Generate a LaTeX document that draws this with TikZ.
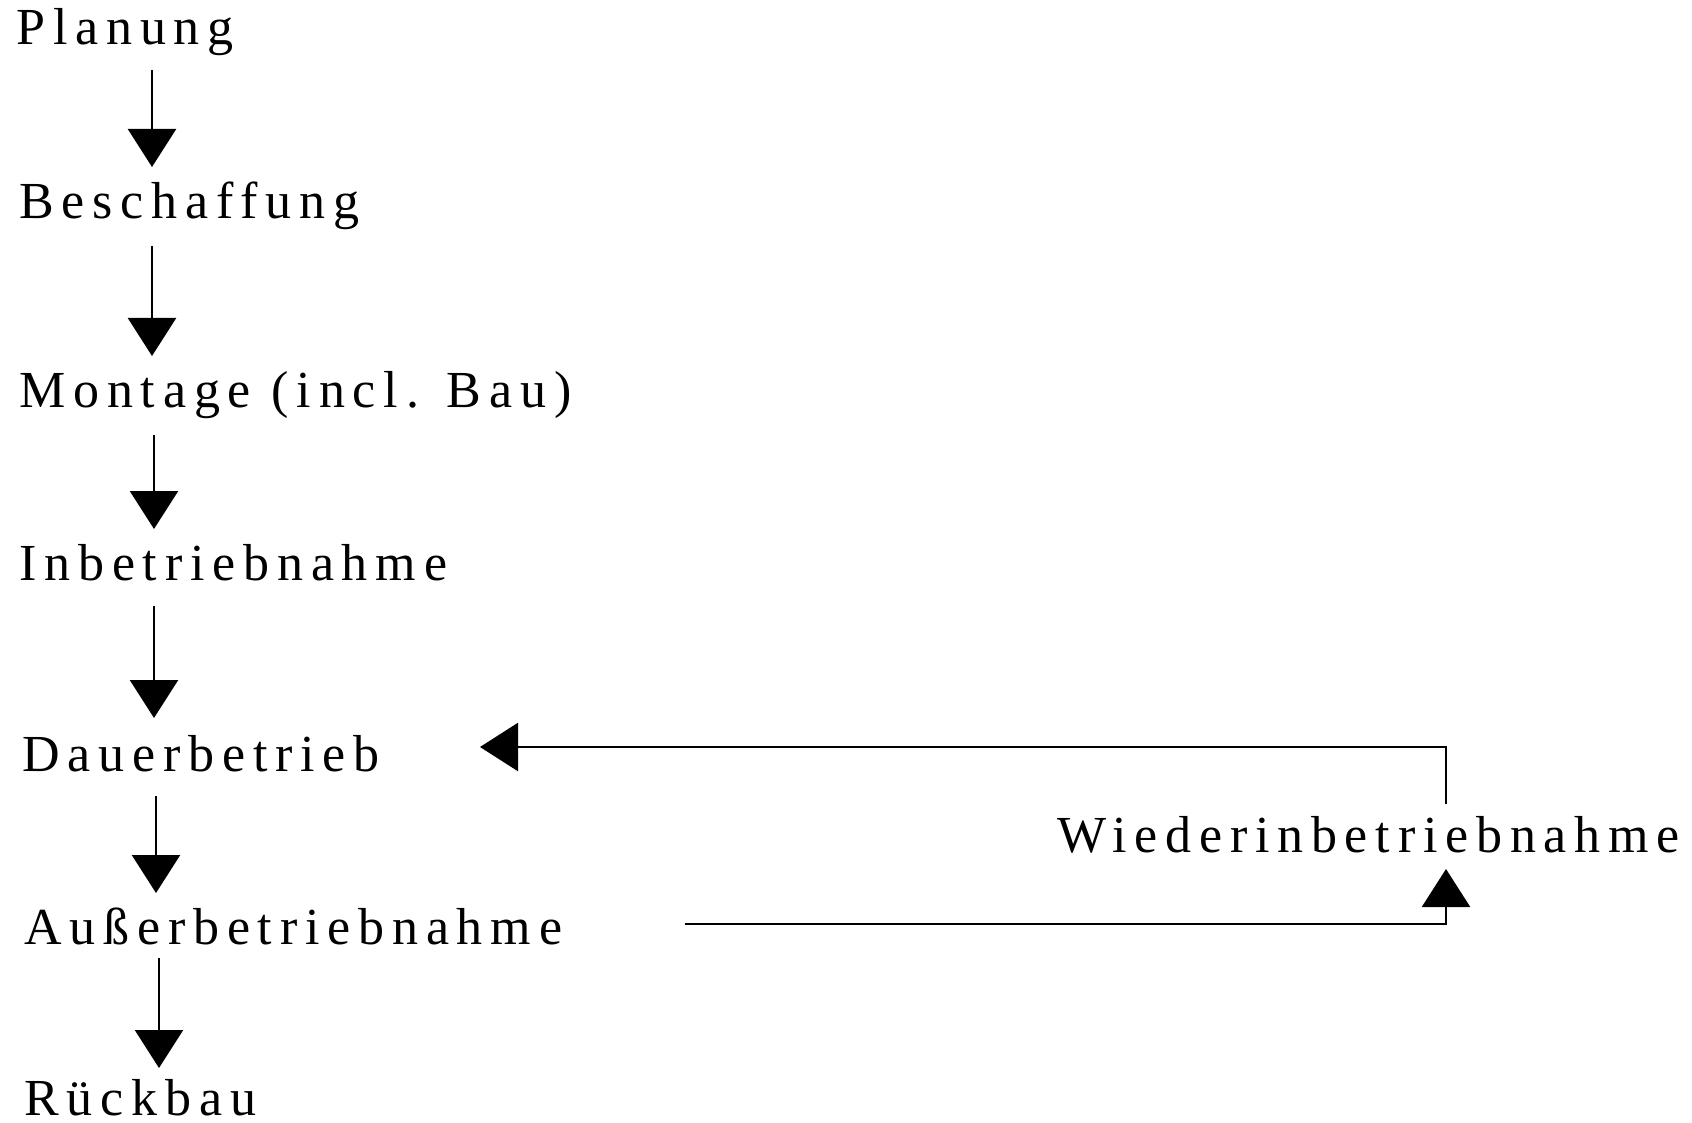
\documentclass[tikz,border=0pt]{standalone}
\usepackage{fontspec}
\setmainfont{Liberation Serif}[LetterSpace=15]
\usetikzlibrary{arrows.meta, calc}

\tikzset{
    phase/.style={anchor=base west, inner sep=0pt, font=\fontsize{26pt}{30pt}\selectfont},
    pfeil/.style={line width=1.2pt, -{Triangle[length=19pt, width=24pt]}}
}

\begin{document}
\begin{tikzpicture}[x=0.5pt, y=-0.5pt]

            \useasboundingbox (0,0) rectangle (1692,1123);

            % Phases
            \node[phase] (plan)   at (16,45)   {Planung};
            \node[phase] (besch)  at (19,219)  {Beschaffung};
            \node[phase] (mont)   at (19,408)  {Montage (incl. Bau)};
            \node[phase] (inbe)   at (19,580)  {Inbetriebnahme};
            \node[phase] (dauer)  at (22,771)  {Dauerbetrieb};
            \node[phase] (ausser) at (24,944)  {Außerbetriebnahme};
            \node[phase] (rueck)  at (24,1115) {Rückbau};
            \node[phase] (wieder) at (1057,852) {Wiederinbetriebnahme};

            % Main sequence
            \draw[pfeil] ($(plan.base west)+(136,25)$) -- ($(besch.base west)+(133,-52)$);
            \draw[pfeil] ($(besch.base west)+(133,27)$) -- ($(mont.base west)+(133,-52)$);
            \draw[pfeil] ($(mont.base west)+(135,27)$) -- ($(inbe.base west)+(135,-51)$);
            \draw[pfeil] ($(inbe.base west)+(135,26)$) -- ($(dauer.base west)+(132,-53)$);
            \draw[pfeil] ($(dauer.base west)+(134,25)$) -- ($(ausser.base west)+(132,-51)$);
            \draw[pfeil] ($(ausser.base west)+(135,14)$) -- ($(rueck.base west)+(135,-47)$);

            % Loop back
            \draw[pfeil] ($(ausser.base east)+(122,-20)$) -| ($(wieder.base west)+(389,17)$);
            \draw[pfeil] ($(wieder.base west)+(389,-48)$) |- ($(dauer.base east)+(100,-24)$);

        \end{tikzpicture}
\end{document}
